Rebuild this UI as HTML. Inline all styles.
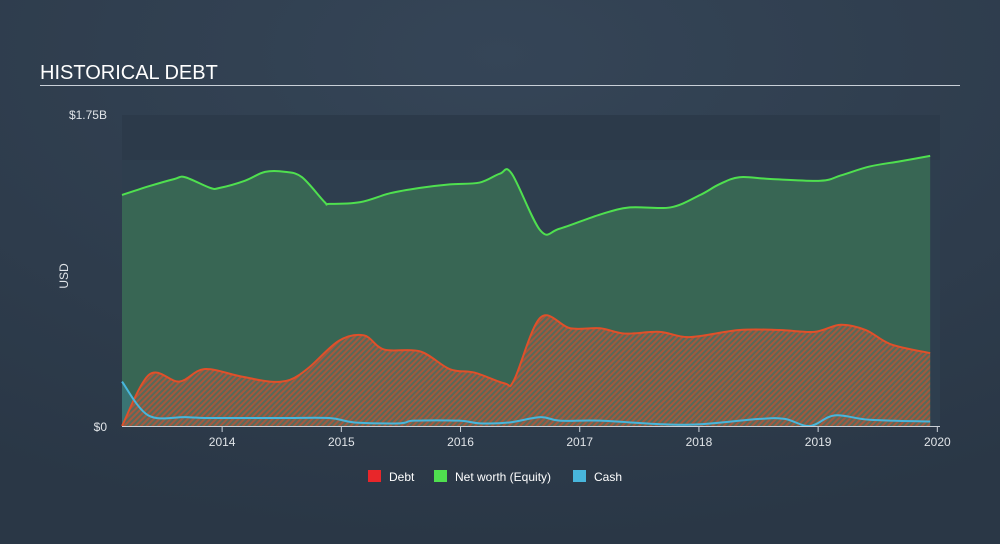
<!DOCTYPE html>
<html><head><meta charset="utf-8"><style>
html,body{margin:0;padding:0;width:1000px;height:544px;overflow:hidden;background:#2f3e4f;font-family:"Liberation Sans",sans-serif}
svg{display:block}
</style></head><body>
<svg width="1000" height="544">
<defs>
<radialGradient id="bg" cx="50%" cy="10%" r="90%"><stop offset="0" stop-color="#354557"/><stop offset="1" stop-color="#2a3746"/></radialGradient>
<pattern id="hatch" width="4" height="4" patternUnits="userSpaceOnUse" patternTransform="rotate(45)"><rect width="4" height="4" fill="#5a6a5a"/><rect width="2" height="4" fill="#b0563a"/></pattern>
</defs>
<rect width="1000" height="544" fill="url(#bg)"/>
<text x="40" y="79" fill="#ffffff" font-size="20">HISTORICAL DEBT</text>
<rect x="40" y="85" width="920" height="1" fill="#c9d0d8"/>
<rect x="122" y="115" width="818" height="311" fill="#2c3a4a"/>
<rect x="122" y="160" width="818" height="266" fill="#314152" opacity="0.6"/>
<g id="plot"></g>
<text x="62" y="270" fill="#e0e4e8" font-size="12" transform="rotate(-90 68 270)" text-anchor="middle">USD</text>
<text x="107" y="119" fill="#e0e4e8" font-size="12" text-anchor="end">$1.75B</text>
<text x="107" y="431" fill="#e0e4e8" font-size="12" text-anchor="end">$0</text>
<g id="xaxis"></g>
<g>
<rect x="368" y="470" width="13" height="12" fill="#e8262a"/>
<text x="389" y="481" fill="#fff" font-size="12">Debt</text>
<rect x="434" y="470" width="13" height="12" fill="#4fe04f"/>
<text x="455" y="481" fill="#fff" font-size="12">Net worth (Equity)</text>
<rect x="573" y="470" width="13" height="12" fill="#48b6dc"/>
<text x="594" y="481" fill="#fff" font-size="12">Cash</text>
</g>
</svg>
<script>
const netT=[2013.16,2013.39,2013.60,2013.69,2013.90,2013.98,2014.19,2014.36,2014.53,2014.67,2014.86,2014.90,2015.16,2015.41,2015.66,2015.91,2016.16,2016.33,2016.43,2016.67,2016.83,2017.17,2017.42,2017.76,2018.01,2018.17,2018.34,2018.60,2019.02,2019.19,2019.43,2019.69,2019.94];
const netV=[1.30,1.35,1.39,1.40,1.34,1.34,1.38,1.43,1.43,1.40,1.26,1.25,1.26,1.31,1.34,1.36,1.37,1.42,1.42,1.10,1.11,1.19,1.23,1.23,1.30,1.36,1.40,1.39,1.38,1.41,1.46,1.49,1.52];
const debtT=[2013.16,2013.39,2013.64,2013.85,2014.15,2014.40,2014.57,2014.73,2014.98,2015.19,2015.36,2015.66,2015.91,2016.12,2016.37,2016.45,2016.67,2016.92,2017.17,2017.38,2017.67,2017.92,2018.34,2018.68,2018.97,2019.19,2019.40,2019.61,2019.94];
const debtV=[0.0,0.29,0.25,0.32,0.28,0.25,0.26,0.33,0.48,0.51,0.43,0.42,0.32,0.30,0.24,0.26,0.61,0.55,0.55,0.52,0.53,0.50,0.54,0.54,0.53,0.57,0.54,0.46,0.41];
const cashT=[2013.16,2013.38,2013.69,2013.90,2014.49,2014.90,2015.11,2015.49,2015.61,2015.99,2016.16,2016.41,2016.67,2016.83,2017.17,2017.68,2018.01,2018.51,2018.72,2018.93,2019.14,2019.43,2019.94];
const cashV=[0.25,0.06,0.05,0.045,0.045,0.045,0.02,0.015,0.03,0.03,0.015,0.02,0.05,0.03,0.03,0.01,0.01,0.04,0.04,0.0,0.06,0.035,0.025];
const years=[2014,2015,2016,2017,2018,2019,2020];
const X=t=>122+(t-2013.16)*119.2, Y=v=>426-v*177.7;
const NS="http://www.w3.org/2000/svg";
function path(T,V){const p=T.map((t,i)=>[X(t),Y(V[i])]);let d=`M${p[0][0]},${p[0][1]}`;
for(let i=0;i<p.length-1;i++){const p0=p[i-1]||p[i],p1=p[i],p2=p[i+1],p3=p[i+2]||p2;
d+=` C${p1[0]+(p2[0]-p0[0])/6},${p1[1]+(p2[1]-p0[1])/6} ${p2[0]-(p3[0]-p1[0])/6},${p2[1]-(p3[1]-p1[1])/6} ${p2[0]},${p2[1]}`;}return d;}
const g=document.getElementById('plot');
function add(tag,attrs,name){const e=document.createElementNS(NS,tag);for(const k in attrs)e.setAttribute(k,attrs[k]);


g.appendChild(e);return e;}
const base=(T)=>` L${X(T[T.length-1])},426 L${X(T[0])},426 Z`;
add('path',{d:path(netT,netV)+base(netT),fill:'#3a6a55',opacity:0.9},'networth-area');
add('path',{d:path(cashT,cashV)+base(cashT),fill:'#3c7a80',opacity:0.7},'cash-area');
add('path',{d:path(debtT,debtV)+base(debtT),fill:'url(#hatch)',opacity:0.9},'debt-area');
add('path',{d:path(netT,netV),fill:'none',stroke:'#4fe04f','stroke-width':2},'networth-line');
add('path',{d:path(debtT,debtV),fill:'none',stroke:'#e0502a','stroke-width':2},'debt-line');
add('path',{d:path(cashT,cashV),fill:'none',stroke:'#48b6dc','stroke-width':2},'cash-line');
const xa=document.getElementById('xaxis');
const ax=document.createElementNS(NS,'rect');
ax.setAttribute('x',122);ax.setAttribute('y',426);ax.setAttribute('width',818);ax.setAttribute('height',1);ax.setAttribute('fill','#c9d0d8');


xa.appendChild(ax);
years.forEach(yr=>{const x=X(yr);
const tk=document.createElementNS(NS,'rect');tk.setAttribute('x',x-0.5);tk.setAttribute('y',426);tk.setAttribute('width',1);tk.setAttribute('height',6);tk.setAttribute('fill','#c9d0d8');


xa.appendChild(tk);
const tx=document.createElementNS(NS,'text');tx.setAttribute('x',x);tx.setAttribute('y',446);tx.setAttribute('fill','#e0e4e8');tx.setAttribute('font-size','12');tx.setAttribute('text-anchor','middle');tx.textContent=yr;


xa.appendChild(tx);});
</script>
</body></html>
